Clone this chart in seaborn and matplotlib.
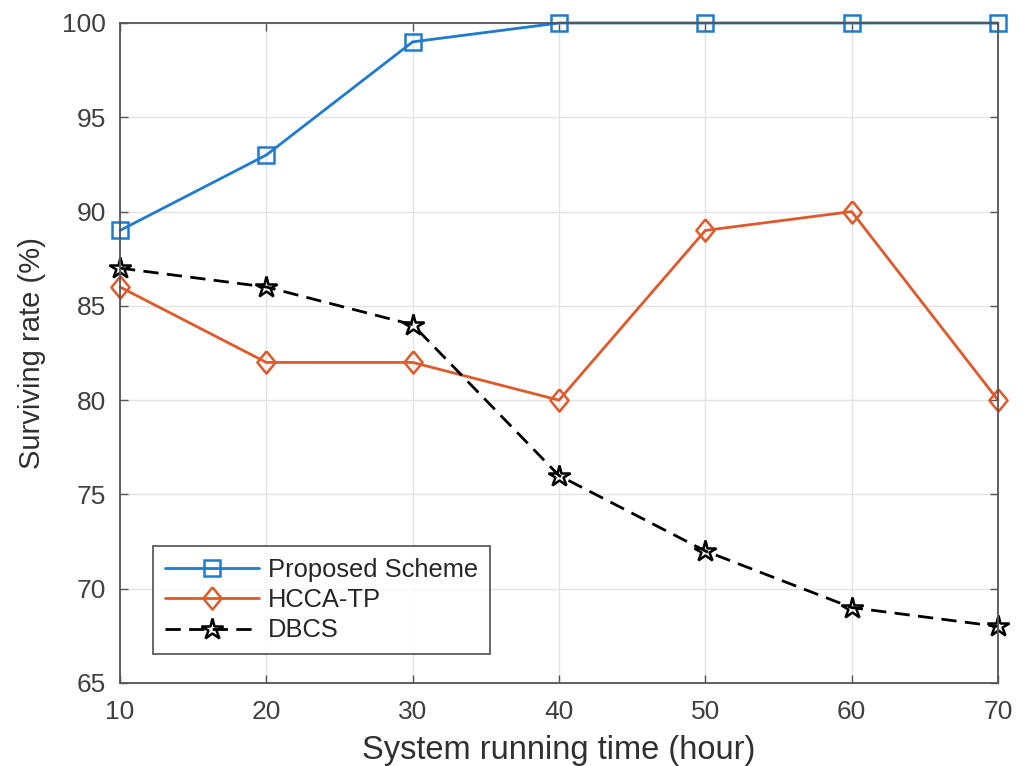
import matplotlib
matplotlib.use("Agg")
import matplotlib.pyplot as plt
import seaborn as sns
import pandas as pd

hours = [10, 20, 30, 40, 50, 60, 70]
proposed = [89, 93, 99, 100, 100, 100, 100]
hcca_tp = [86, 82, 82, 80, 89, 90, 80]
dbcs = [87, 86, 84, 76, 72, 69, 68]
series_names = ["Proposed Scheme", "HCCA-TP", "DBCS"]
yticks = [65, 70, 75, 80, 85, 90, 95, 100]

sns.set_theme(style="whitegrid")
plt.rcParams['font.family'] = ['Liberation Sans', 'DejaVu Sans']

df = pd.DataFrame({
    "hour": hours * 3,
    "rate": proposed + hcca_tp + dbcs,
    "series": [series_names[0]] * 7 + [series_names[1]] * 7 + [series_names[2]] * 7,
})

fig = plt.figure(figsize=(10.24, 7.66), dpi=100)
ax = fig.add_axes([120/1024, 1 - 683/766, (998-120)/1024, (683-23)/766])

palette = {series_names[0]: "#1f7bcf", series_names[1]: "#e0592a", series_names[2]: "black"}
diamond = [(0, 1), (0.82, 0), (0, -1), (-0.82, 0), (0, 1)]
styles = {
    series_names[0]: dict(marker="s", ls="-", ms=11),
    series_names[1]: dict(marker=diamond, ls="-", ms=16),
    series_names[2]: dict(marker="*", ls=(0, (5.5, 3)), ms=16),
}
for name in series_names:
    sub = df[df.series == name]
    st = styles[name]
    sns.lineplot(data=sub, x="hour", y="rate", ax=ax, color=palette[name],
                 linestyle=st["ls"], marker=st["marker"], markersize=st["ms"],
                 markerfacecolor="none", markeredgecolor=palette[name],
                 markeredgewidth=1.8, linewidth=2.0, label=name, clip_on=False)

ax.set_xlim(10, 70)
ax.set_ylim(65, 100)
ax.set_xticks(hours)
ax.set_yticks(yticks)
ax.grid(True, color="#e3e3e3", linewidth=1.0)
ax.set_axisbelow(True)
for s in ax.spines.values():
    s.set_color("#555555")
    s.set_linewidth(1.3)
ax.tick_params(axis="both", direction="in", length=6, width=1, colors="#555555",
               labelsize=19, labelcolor="#404040", top=True, right=True,
               bottom=True, left=True)
ax.tick_params(axis="x", pad=12)
ax.tick_params(axis="y", pad=10)
ax.set_xlabel("System running time (hour)", fontsize=23.5, color="#303030", labelpad=8)
ax.set_ylabel("Surviving rate (%)", fontsize=21, color="#303030", labelpad=12)

leg = ax.legend(loc="lower left", bbox_to_anchor=(0.0376, 0.044), fontsize=18.4,
                frameon=True, fancybox=False, edgecolor="#333333",
                handlelength=3.7, handletextpad=0.35, borderpad=0.45,
                labelspacing=0.25, borderaxespad=0)
leg.get_frame().set_linewidth(1.3)
for t in leg.get_texts():
    t.set_color("#262626")

fig.savefig("out.png", dpi=100)
